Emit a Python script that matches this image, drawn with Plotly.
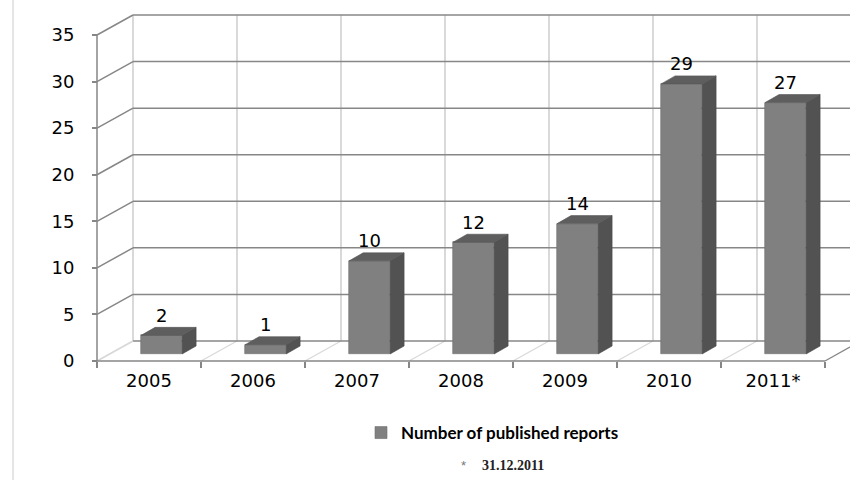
import plotly.graph_objects as go

# ---- data ----
categories = ["2005", "2006", "2007", "2008", "2009", "2010", "2011*"]
reports = [2, 1, 10, 12, 14, 29, 27]
y_ticks = [0, 5, 10, 15, 20, 25, 30, 35]
series_name = "Number of published reports"
footnote_date = "31.12.2011"

# ---- geometry (3D look) ----
PX_X = 104.0            # px per category
PX_Y = 9.314            # px per unit
DX = 36 / PX_X          # wall depth in x units
DY = 20 / PX_Y          # wall depth in y units
T = 0.35                # depth position of bar front faces
BW = 41 / PX_X          # bar width
BDX = 14 / PX_X         # bar depth x
BDY = 8 / PX_Y          # bar depth y
YMAX = y_ticks[-1]
n = len(categories)

ML, MR, MT, MB = 92, 0, 13, 114
W, H = 850, 480
pw, ph = W - ML - MR, H - MT - MB
x0 = -5 / PX_X
xr = [x0, x0 + pw / PX_X]
y0 = -5 / PX_Y
yr = [y0, y0 + ph / PX_Y]

GRID = "#878787"
LIGHT = "#d9d9d9"
AXIS = "#868686"
FONT = "DejaVu Sans, Liberation Sans, Arial"

shapes = []
def line(xa, ya, xb, yb, color, width=1.3, layer="below"):
    shapes.append(dict(type="line", xref="x", yref="y", x0=xa, y0=ya, x1=xb, y1=yb,
                       line=dict(color=color, width=width), layer=layer))

# back wall vertical gridlines
for k in range(n + 1):
    line(k + DX, DY, k + DX, YMAX + DY, LIGHT, 2)
# floor diagonals
for k in range(n + 1):
    line(k, 0, k + DX, DY, AXIS if k == n else LIGHT, 1.3)
# back wall horizontal gridlines and side wall diagonals
for v in y_ticks:
    line(DX, v + DY, n + DX + 1, v + DY, GRID, 1.5)
    line(0, v, DX, v + DY, LIGHT if v == 0 else GRID, 1.5)
# front axes
line(0, 0, 0, YMAX, AXIS, 1.5)
line(0, 0, n, 0, AXIS, 1.5)
# chart frame edge at left
shapes.append(dict(type="line", xref="paper", yref="paper", x0=(13 - ML) / pw, x1=(13 - ML) / pw,
                   y0=-MB / ph, y1=(ph + MT) / ph, line=dict(color="#d4d4d4", width=1.2)))

centers = [k + 0.5 + T * DX for k in range(n)]
base = T * DY

fig = go.Figure()
fig.add_trace(go.Bar(x=centers, y=reports, base=base, width=BW, name=series_name,
                     marker=dict(color="#808080", line=dict(color="#6e6e6e", width=0.6)),
                     showlegend=True, hoverinfo="skip"))

side_x, side_y, top_x, top_y = [], [], [], []
for c, v in zip(centers, reports):
    l, r = c - BW / 2, c + BW / 2
    top = base + v
    side_x += [r, r + BDX, r + BDX, r, r, None]
    side_y += [base, base + BDY, top + BDY, top, base, None]
    top_x += [l, r, r + BDX, l + BDX, l, None]
    top_y += [top, top, top + BDY, top + BDY, top, None]
fig.add_trace(go.Scatter(x=side_x, y=side_y, fill="toself", fillcolor="#525252", mode="lines",
                         line=dict(color="#4a4a4a", width=0.6), showlegend=False, hoverinfo="skip"))
fig.add_trace(go.Scatter(x=top_x, y=top_y, fill="toself", fillcolor="#5e5e5e", mode="lines",
                         line=dict(color="#555555", width=0.6), showlegend=False, hoverinfo="skip"))
# invisible trace for the secondary x axis (category boundary ticks)
fig.add_trace(go.Scatter(x=[0, n], y=[0, 0], xaxis="x2", mode="markers",
                         marker=dict(opacity=0), showlegend=False, hoverinfo="skip"))

annotations = []
for c, v in zip(centers, reports):
    annotations.append(dict(x=c, y=base + v + BDY, xref="x", yref="y", text=str(v),
                            showarrow=False, yanchor="middle", yshift=12,
                            font=dict(family=FONT, size=18, color="black")))
# footnote
fy = (ph + MT - 465) / ph
annotations.append(dict(xref="paper", yref="paper", x=(463 - ML) / pw, y=fy,
                        text="*", showarrow=False, xanchor="center", yanchor="middle",
                        font=dict(family="Liberation Sans, Arial", size=13, color="#777777")))
annotations.append(dict(xref="paper", yref="paper", x=(480 - ML) / pw, y=fy,
                        text="<b>" + footnote_date + "</b>", showarrow=False, xanchor="left", yanchor="middle",
                        font=dict(family="Liberation Serif, serif", size=14, color="#222222")))

axis_pos = 5 / ph
fig.update_layout(
    width=W, height=H, margin=dict(l=ML, r=MR, t=MT, b=MB, pad=0),
    plot_bgcolor="white", paper_bgcolor="white",
    bargap=0, barmode="overlay",
    xaxis=dict(range=xr, tickmode="array", tickvals=[k + 0.5 for k in range(n)],
               ticktext=categories, ticks="", showgrid=False, zeroline=False, showline=False,
               anchor="free", position=axis_pos, ticklabelstandoff=7,
               tickfont=dict(family=FONT, size=18, color="black")),
    xaxis2=dict(range=xr, overlaying="x", side="bottom", anchor="free", position=axis_pos,
                tickmode="array", tickvals=list(range(n + 1)), ticks="outside", ticklen=6,
                tickcolor=AXIS, tickwidth=1.5, showticklabels=False, showgrid=False,
                zeroline=False, showline=False),
    yaxis=dict(range=yr, tickmode="array", tickvals=y_ticks, ticks="outside", ticklen=5,
               tickcolor=AXIS, tickwidth=1.5, showgrid=False, zeroline=False, showline=False,
               anchor="free", position=5 / pw, ticklabelstandoff=14,
               tickfont=dict(family=FONT, size=18, color="black")),
    legend=dict(orientation="h", x=(361 - ML) / pw, xanchor="left", y=(ph + MT - 433) / ph,
                yanchor="middle", font=dict(family="Lato, Liberation Sans",
                                            size=17, color="black", weight="bold"),
                bgcolor="rgba(0,0,0,0)"),
    shapes=shapes, annotations=annotations, showlegend=True,
)

fig.write_html("out.html")
